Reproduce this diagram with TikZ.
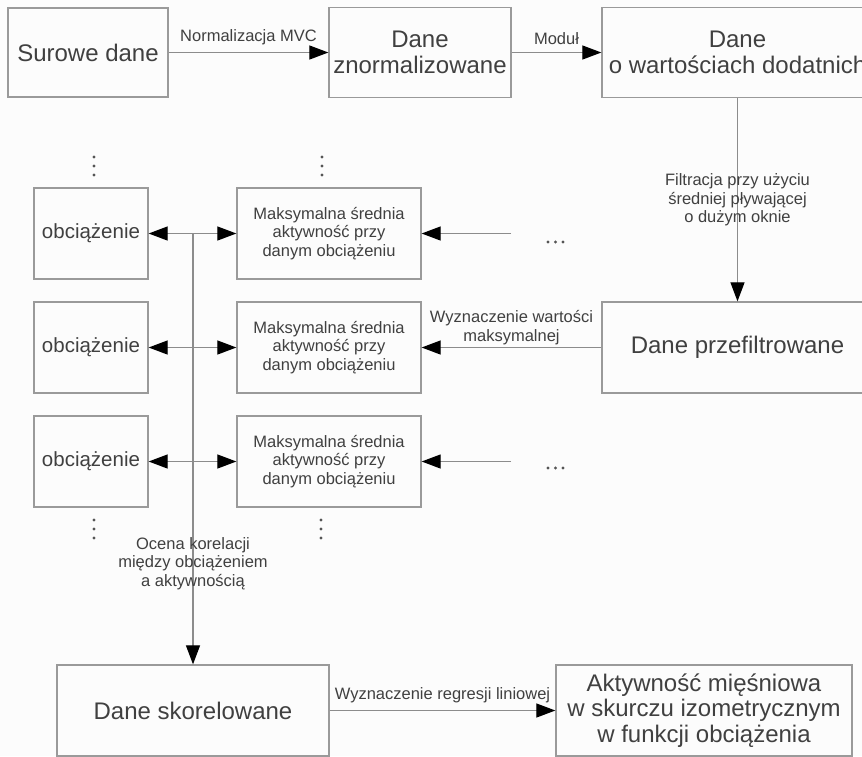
\documentclass[tikz,border=0pt]{standalone}
\usepackage{fontspec}
\setmainfont{Liberation Sans}
\usetikzlibrary{arrows.meta}
\definecolor{boxgray}{HTML}{9A9A9A}
\definecolor{linegray}{HTML}{8C8C8C}
\definecolor{txt}{HTML}{404040}
\definecolor{dotc}{HTML}{555555}
\definecolor{bg}{HTML}{FCFCFC}
\begin{document}
\begin{tikzpicture}[x=1pt,y=-1pt,
  box/.style={draw=boxgray, line width=1.3pt, text=txt, align=center, inner sep=0pt},
  big/.style={font=\fontsize{24}{25.5}\selectfont},
  mid/.style={font=\fontsize{20.5}{24}\selectfont},
  sm/.style={font=\fontsize{16.5}{18.5}\selectfont, text=txt, align=center},
  conn/.style={draw=linegray, line width=1.2pt, -{Triangle[length=19pt,width=14pt,black]}},
  dot/.style={fill=dotc},
]
\fill[bg] (0,0) rectangle (862,756);
\useasboundingbox (0,0) rectangle (862,756);

% top row
\node[box, big, minimum width=160, minimum height=89] (sur) at (88,52.5) {Surowe dane};
\node[box, big, minimum width=182, minimum height=90] (zno) at (420,52.5) {Dane\\znormalizowane};
\node[box, big, minimum width=271, minimum height=90] (dod) at (737.5,52.5) {Dane\\o wartościach dodatnich};
\node[box, big, minimum width=271, minimum height=91] (prz) at (737.5,347.5) {Dane przefiltrowane};

% left column
\node[box, mid, minimum width=114, minimum height=91] (obc1) at (91,233.5) {obciążenie};
\node[box, mid, minimum width=114, minimum height=91] (obc2) at (91,347.5) {obciążenie};
\node[box, mid, minimum width=114, minimum height=91] (obc3) at (91,461.5) {obciążenie};

% middle column
\node[box, sm, minimum width=184, minimum height=91] (mak1) at (329,233.5) {Maksymalna średnia\\aktywność przy\\danym obciążeniu};
\node[box, sm, minimum width=184, minimum height=91] (mak2) at (329,347.5) {Maksymalna średnia\\aktywność przy\\danym obciążeniu};
\node[box, sm, minimum width=184, minimum height=91] (mak3) at (329,461.5) {Maksymalna średnia\\aktywność przy\\danym obciążeniu};

% bottom row
\node[box, big, minimum width=272, minimum height=91] (sko) at (193,710.5) {Dane skorelowane};
\node[box, big, minimum width=296, minimum height=91] (akt) at (704,710.5) {Aktywność mięśniowa\\w skurczu izometrycznym\\w funkcji obciążenia};

% vertical dots
\foreach \cx/\cy in {94/157, 94/166, 94/175, 322/157, 322/166, 322/175,
                     94/520, 94/529, 94/538, 321/520, 321/529, 321/538}
  \fill[dot] (\cx,\cy) circle (1.7);
% horizontal dots
\foreach \cx/\cy in {548/242, 555.5/242, 563/242, 548/468, 555.5/468, 563/468}
  \fill[dot] (\cx,\cy) circle (1.7);

% coordinates
\coordinate (b1) at (193,233.5);
\coordinate (b2) at (193,347.5);
\coordinate (b3) at (193,461.5);
\coordinate (r1) at (511,233.5);
\coordinate (r3) at (511,461.5);

% connectors
\draw[conn] (sur) -- node[sm, above, inner sep=7pt] {Normalizacja MVC} (zno);
\draw[conn] (zno) -- node[sm, above, inner sep=7pt] {Moduł} (dod);
\draw[conn] (dod) -- node[sm] {Filtracja przy użyciu\\średniej pływającej\\o dużym oknie} (prz);
\draw[conn] (prz) -- node[sm, above, inner sep=2pt] {Wyznaczenie wartości\\maksymalnej} (mak2);
\draw[conn] (r1) -- (mak1);
\draw[conn] (r3) -- (mak3);

\draw[conn] (b1) -- node[sm, pos=0.766] {Ocena korelacji\\między obciążeniem\\a aktywnością} (sko);
\draw[conn] (b1) -- (obc1);
\draw[conn] (b1) -- (mak1);
\draw[conn] (b2) -- (obc2);
\draw[conn] (b2) -- (mak2);
\draw[conn] (b3) -- (obc3);
\draw[conn] (b3) -- (mak3);

\draw[conn] (sko) -- node[sm, above, inner sep=7pt] {Wyznaczenie regresji liniowej} (akt);
\end{tikzpicture}
\end{document}
